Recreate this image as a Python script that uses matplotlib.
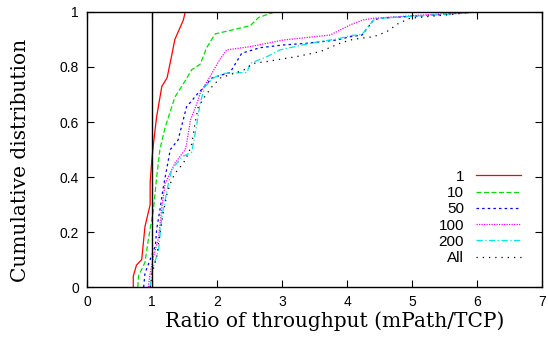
import matplotlib
matplotlib.use('Agg')
import matplotlib.pyplot as plt

plt.rc('font', family='sans-serif')
plt.rcParams['font.sans-serif'] = ['Liberation Sans', 'DejaVu Sans']

# CDF of throughput ratio
x_1 = [0.71, 0.71, 0.76, 0.84, 0.89, 0.97, 0.97, 0.995, 1.02, 1.07, 1.15, 1.23, 1.30, 1.35, 1.48, 1.51]
y_1 = [0.0, 0.04, 0.08, 0.10, 0.22, 0.30, 0.38, 0.46, 0.52, 0.62, 0.73, 0.76, 0.84, 0.90, 0.97, 1.0]

x_10 = [0.78, 0.79, 0.89, 0.94, 1.02, 1.07, 1.12, 1.20, 1.35, 1.51, 1.61, 1.74, 1.84, 1.97, 2.51, 2.64, 2.89]
y_10 = [0.0, 0.04, 0.09, 0.17, 0.28, 0.40, 0.50, 0.58, 0.69, 0.75, 0.79, 0.81, 0.87, 0.92, 0.95, 0.98, 1.0]

x_50 = [0.87, 0.89, 0.97, 1.05, 1.07, 1.12, 1.17, 1.28, 1.40, 1.53, 1.69, 1.81, 1.92, 2.2, 2.38, 2.66, 3.02, 3.38, 3.84, 4.05, 4.23, 4.41, 4.51, 4.92, 5.43, 6.0]
y_50 = [0.0, 0.05, 0.10, 0.15, 0.21, 0.28, 0.36, 0.50, 0.535, 0.655, 0.70, 0.73, 0.76, 0.78, 0.85, 0.87, 0.88, 0.886, 0.898, 0.91, 0.916, 0.971, 0.977, 0.983, 0.99, 1.0]

x_100 = [0.94, 0.97, 1.02, 1.10, 1.15, 1.20, 1.35, 1.51, 1.53, 1.59, 1.69, 1.74, 2.0, 2.05, 2.15, 2.51, 3.02, 3.74, 3.89, 4.05, 4.25, 4.41, 4.92, 5.58, 6.2]
y_100 = [0.0, 0.05, 0.11, 0.18, 0.29, 0.376, 0.45, 0.50, 0.52, 0.607, 0.668, 0.704, 0.81, 0.83, 0.862, 0.874, 0.898, 0.916, 0.934, 0.953, 0.971, 0.977, 0.985, 0.995, 1.0]

x_200 = [0.97, 1.0, 1.10, 1.15, 1.20, 1.25, 1.30, 1.46, 1.61, 1.69, 1.74, 1.81, 1.94, 2.12, 2.46, 2.51, 2.77, 2.97, 3.43, 3.89, 4.05, 4.23, 4.41, 4.51, 4.92, 5.43, 6.0]
y_200 = [0.0, 0.06, 0.135, 0.256, 0.316, 0.376, 0.425, 0.474, 0.49, 0.595, 0.668, 0.728, 0.76, 0.777, 0.78, 0.813, 0.838, 0.862, 0.886, 0.904, 0.914, 0.918, 0.971, 0.977, 0.983, 0.99, 1.0]

x_all = [0.97, 1.0, 1.07, 1.12, 1.17, 1.23, 1.28, 1.35, 1.48, 1.56, 1.61, 1.66, 1.71, 1.81, 1.92, 2.05, 2.41, 2.56, 2.77, 3.23, 3.59, 3.89, 4.05, 4.20, 4.41, 4.61, 4.79, 4.97, 5.23, 5.58, 5.94]
y_all = [0.0, 0.05, 0.11, 0.195, 0.268, 0.34, 0.376, 0.413, 0.45, 0.486, 0.52, 0.595, 0.655, 0.692, 0.728, 0.76, 0.789, 0.813, 0.82, 0.838, 0.856, 0.886, 0.898, 0.904, 0.91, 0.928, 0.958, 0.977, 0.983, 0.99, 1.0]

labels = ['1', '10', '50', '100', '200', 'All']
series = [(x_1, y_1), (x_10, y_10), (x_50, y_50), (x_100, y_100), (x_200, y_200), (x_all, y_all)]
colors = ['#ff0000', '#00dd00', '#0000ff', '#ff00ff', '#00e5e5', '#000000']
styles = ['-', (0, (4, 2)), (0, (2, 2.5)), (0, (1, 1)), (0, (5, 2, 1, 2)), (0, (1, 4))]

fig = plt.figure(figsize=(5.48, 3.41), dpi=100)
ax = fig.add_axes([0.159, 0.158, 0.830, 0.807])

for (xs, ys), lab, c, ls in zip(series, labels, colors, styles):
    ax.plot(xs, ys, color=c, ls=ls, lw=0.9, label=lab)

ax.axvline(1, color='black', lw=1.0)

ax.set_xlim(0, 7)
ax.set_ylim(0, 1)
ax.set_xticks(range(8))
ax.set_yticks([0, 0.2, 0.4, 0.6, 0.8, 1])
ax.set_yticklabels(['0', '0.2', '0.4', '0.6', '0.8', '1'])
ax.tick_params(direction='in', top=True, right=True, labelsize=10, length=5, pad=6)
ax.set_xlabel('Ratio of throughput (mPath/TCP)', fontsize=14.5, family='DejaVu Serif')
ax.set_ylabel('Cumulative distribution', fontsize=14.5, family='DejaVu Serif')
ax.xaxis.set_label_coords(0.545, -0.088)
ax.yaxis.set_label_coords(-0.125, 0.462)
for s in ax.spines.values():
    s.set_linewidth(1.0)

leg = ax.legend(loc='lower right', bbox_to_anchor=(0.985, 0.03), frameon=False,
                markerfirst=False, handlelength=2.95, labelspacing=0.15,
                prop={'size': 11}, handletextpad=0.8)
for t in leg.get_texts():
    t.set_ha('right')

fig.savefig('out.png', dpi=100)
